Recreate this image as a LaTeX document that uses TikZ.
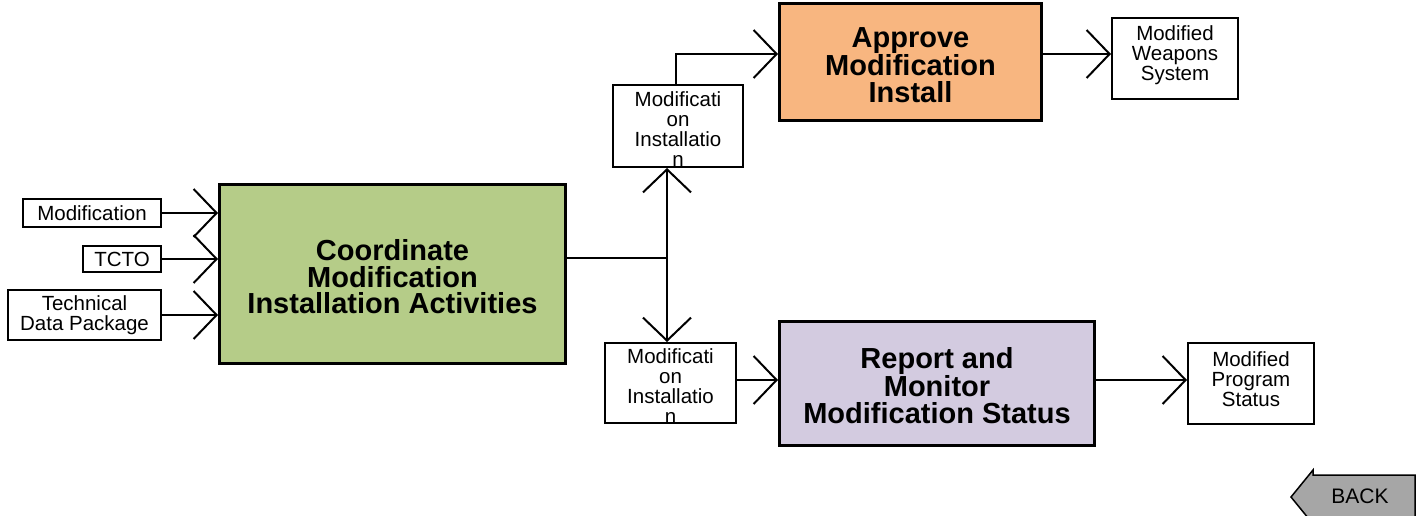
\documentclass[tikz,border=0pt]{standalone}
\usepackage{fontspec}
\setmainfont{Liberation Sans}
\usetikzlibrary{arrows.meta}
\definecolor{gfill}{RGB}{181,204,136}
\definecolor{ofill}{RGB}{248,182,128}
\definecolor{pfill}{RGB}{211,203,224}
\definecolor{bfill}{RGB}{166,166,166}
\begin{document}
\begin{tikzpicture}[x=1pt,y=-1pt,
  big/.style={draw=black,line width=3pt,inner sep=0pt},
  bigtxt/.style={font=\fontsize{29}{26.5}\selectfont\bfseries,align=center,inner sep=0pt},
  small/.style={draw=black,line width=2pt,font=\fontsize{20.5}{20}\selectfont,align=center,inner sep=0pt},
  smalltxt/.style={font=\fontsize{20.5}{20}\selectfont,align=center,inner sep=0pt},
  ln/.style={line width=2pt},
  arr/.style={line width=2pt,-{Straight Barb[length=23pt,width=48pt,line width=2pt]}}]
\useasboundingbox (0,0) rectangle (1416,515);
% main boxes
\node[big,fill=gfill,minimum width=346,minimum height=179,
  label={[bigtxt,yshift=-3pt]center:{Coordinate\\Modification\\Installation Activities}}] (coord) at (392.5,274) {};
\node[big,fill=ofill,minimum width=262,minimum height=117,
  label={[bigtxt,yshift=-3pt]center:{Approve\\Modification\\Install}}] (approve) at (910.5,62) {};
\node[big,fill=pfill,minimum width=315,minimum height=124,
  label={[bigtxt,yshift=-2pt]center:{Report and\\Monitor\\Modification Status}}] (report) at (937,383.5) {};
% input boxes
\node[small,minimum width=138,minimum height=28] (in1) at (92,213) {Modification};
\node[small,minimum width=78,minimum height=26] (in2) at (122,259) {TCTO};
\node[small,minimum width=153,minimum height=50] (in3) at (84.5,315) {Technical\\Data Package};
% intermediate boxes
\node[small,minimum width=130,minimum height=82,
  label={[smalltxt,yshift=-3pt]center:{Modificati\\on\\Installatio\\n}}] (mi1) at (678,126) {};
\node[small,minimum width=131,minimum height=80,
  label={[smalltxt,yshift=-3pt]center:{Modificati\\on\\Installatio\\n}}] (mi2) at (670.5,383) {};
% outputs
\node[small,minimum width=126,minimum height=81,
  label={[smalltxt,yshift=3pt]center:{Modified\\Weapons\\System}}] (mws) at (1175,58.5) {};
\node[small,minimum width=126,minimum height=81,
  label={[smalltxt,yshift=4pt]center:{Modified\\Program\\Status}}] (mps) at (1251,383.5) {};
% connectors
\draw[arr] (in1.east) -- (in1.east -| coord.west);
\draw[arr] (in2.east) -- (in2.east -| coord.west);
\draw[arr] (in3.east) -- (in3.east -| coord.west);
\coordinate (split) at (667,258);
\draw[ln] (coord.east |- split) -- (split);
\draw[arr] (split) -- (split |- mi1.south);
\draw[arr] (split) -- (split |- mi2.north);
\coordinate (up) at (676,54);
\draw[arr] (up |- mi1.north) -- (up) -- (up -| approve.west);
\draw[arr] (approve.east |- up) -- (mws.west |- up);
\coordinate (low) at (0,380);
\draw[arr] (mi2.east |- low) -- (report.west |- low);
\draw[arr] (report.east |- low) -- (mps.west |- low);
% back button
\draw[fill=bfill,line width=1.5pt] (1415,475) -- (1313,475) -- (1313,470) -- (1291,497) -- (1313,524) -- (1313,519) -- (1415,519) -- cycle;
\node[font=\fontsize{21}{21}\selectfont,inner sep=0pt] (back) at (1360,496) {BACK};
\end{tikzpicture}
\end{document}
